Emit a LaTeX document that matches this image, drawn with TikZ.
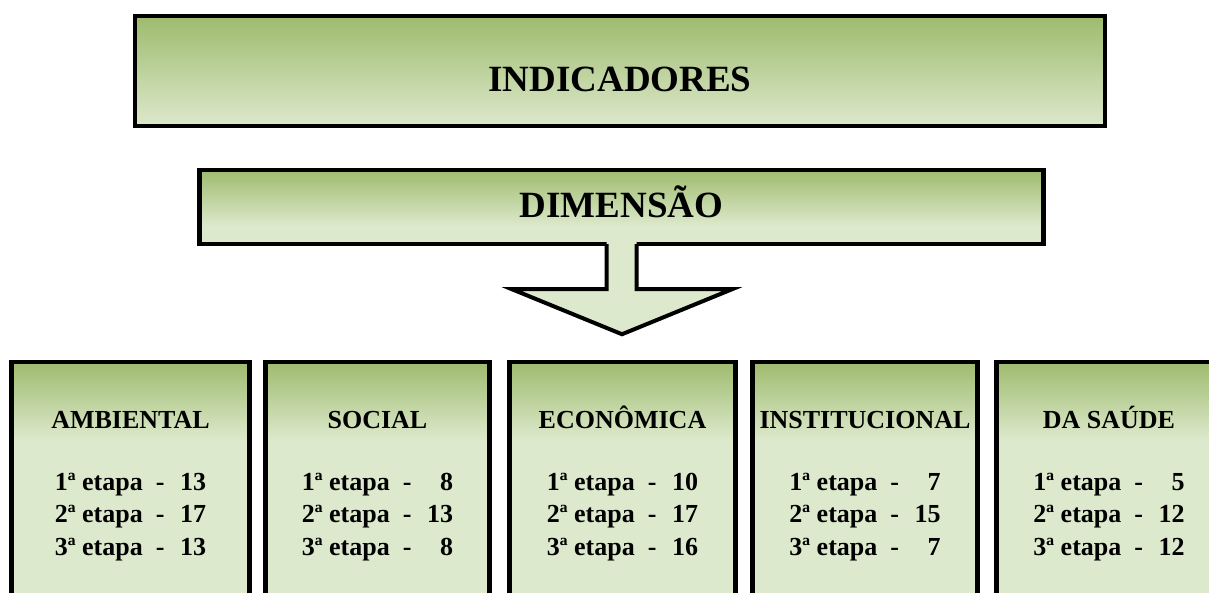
\documentclass[tikz,border=0pt]{standalone}
\usepackage{fontspec}
\setmainfont{Liberation Serif}
\usetikzlibrary{calc}

\definecolor{greentop}{RGB}{158,187,110}
\definecolor{greenlow}{RGB}{221,233,204}
\pgfdeclareverticalshading{groupfade}{100bp}{color(0bp)=(greenlow); color(60.3bp)=(greenlow); color(75bp)=(greentop); color(100bp)=(greentop)}
\pgfdeclareverticalshading{dimfade}{100bp}{color(0bp)=(greenlow); color(37.2bp)=(greenlow); color(75bp)=(greentop); color(100bp)=(greentop)}
\newcommand{\bigbold}{\fontsize{37}{44}\selectfont\bfseries}
\newcommand{\etp}[2]{#1ª etapa\ \ -\ \ \makebox[1.1em][r]{#2}}
\newcommand{\dimhead}[1]{\rule{0pt}{24pt}#1\\[29.5pt]}
\newcommand{\dimtail}{\rule[-30pt]{0pt}{30pt}}

\begin{document}
\begin{tikzpicture}[x=1pt, y=1pt,
    topbox/.style={draw, line width=4pt, inner sep=0pt, top color=greentop, bottom color=greenlow},
    group/.style={draw, line width=4.5pt, inner sep=0pt, shade, shading=groupfade, minimum height=265pt,
        align=center, font=\fontsize{26}{32.5}\selectfont\bfseries}
]
    \useasboundingbox (0,0) rectangle (1209,592);

    \node[topbox, minimum width=970pt, minimum height=110pt, font=\bigbold,
          text height=39.5pt, text depth=0pt](ind)          at (620,520.5)  {INDICADORES};
    \node[draw, line width=4.5pt, inner sep=0pt, shade, shading=dimfade, minimum width=844pt, minimum height=74pt,
          font=\bigbold, text height=20.5pt, text depth=0pt](dim) at (621.5,385) {DIMENSÃO};

    \node[group, minimum width=238pt](amb)                  at (130.5,97.5) {\dimhead{AMBIENTAL}\etp{1}{13}\\\etp{2}{17}\\\etp{3}{13}\dimtail};
    \node[group, minimum width=224pt](soc)                  at (377.5,97.5) {\dimhead{SOCIAL}\etp{1}{8}\\\etp{2}{13}\\\etp{3}{8}\dimtail};
    \node[group, minimum width=226pt](eco)                  at (622.5,97.5) {\dimhead{ECONÔMICA}\etp{1}{10}\\\etp{2}{17}\\\etp{3}{16}\dimtail};
    \node[group, minimum width=225pt](inst)                 at (865,97.5)   {\dimhead{INSTITUCIONAL}\etp{1}{7}\\\etp{2}{15}\\\etp{3}{7}\dimtail};
    \node[group, minimum width=225pt](sau)                  at (1109,97.5)  {\dimhead{DA SAÚDE}\etp{1}{5}\\\etp{2}{12}\\\etp{3}{12}\dimtail};

    % seta que sai da dimensao
    \fill[greenlow] ($(dim.south)+(-15,4)$) -- ($(dim.south)+(-15,-43)$) -- ($(dim.south)+(-109.5,-43)$)
        -- ($(dim.south)+(0.5,-88)$) -- ($(dim.south)+(110.5,-43)$) -- ($(dim.south)+(15,-43)$)
        -- ($(dim.south)+(15,4)$) -- cycle;
    \draw[line width=4pt] ($(dim.south)+(-15,2)$) -- ($(dim.south)+(-15,-43)$) -- ($(dim.south)+(-109.5,-43)$)
        -- ($(dim.south)+(0.5,-88)$) -- ($(dim.south)+(110.5,-43)$) -- ($(dim.south)+(15,-43)$)
        -- ($(dim.south)+(15,2)$);
\end{tikzpicture}
\end{document}
